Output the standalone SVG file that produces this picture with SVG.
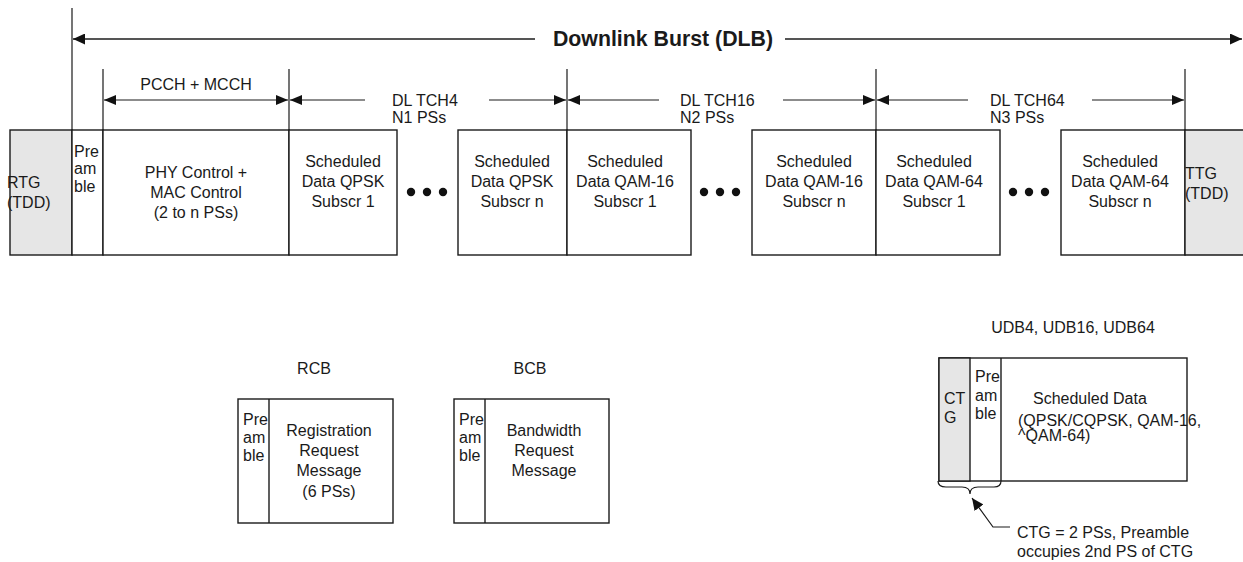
<svg xmlns="http://www.w3.org/2000/svg" width="1243" height="562" viewBox="0 0 1243 562">
<style>
text{font-family:"Liberation Sans",Arial,sans-serif;font-size:16px;fill:#1a1a1a}
.c{text-anchor:middle}
.box{fill:#fff;stroke:#1a1a1a;stroke-width:1.4}
.gray{fill:#e6e6e6;stroke:#1a1a1a;stroke-width:1.4}
.ln{stroke:#1a1a1a;stroke-width:1.2;fill:none}
.dim{stroke:#1a1a1a;stroke-width:1.2;fill:none}
.big{stroke:#555;stroke-width:2;fill:none}
.title{font-weight:bold;font-size:21.3px}
</style>
<defs>
<marker id="ah" viewBox="0 0 12 10" refX="12" refY="5" markerWidth="12" markerHeight="10" markerUnits="userSpaceOnUse" orient="auto-start-reverse"><path d="M0,0 L12,5 L0,10 z" fill="#111"/></marker>
<marker id="ahb" viewBox="0 0 12 11" refX="12" refY="5.5" markerWidth="12" markerHeight="11" markerUnits="userSpaceOnUse" orient="auto-start-reverse"><path d="M0,0 L12,5.5 L0,11 z" fill="#111"/></marker>
</defs>

<g id="connectors">
<line class="ln" x1="72" y1="8" x2="72" y2="130"/>
<line class="big" x1="73" y1="39" x2="535" y2="39" marker-start="url(#ahb)"/>
<line class="big" x1="785" y1="39" x2="1242" y2="39" marker-end="url(#ahb)"/>
<line class="ln" x1="103" y1="69" x2="103" y2="130"/>
<line class="ln" x1="289" y1="69" x2="289" y2="130"/>
<line class="ln" x1="567" y1="69" x2="567" y2="130"/>
<line class="ln" x1="876" y1="69" x2="876" y2="130"/>
<line class="ln" x1="1185" y1="69" x2="1185" y2="130"/>
<line class="dim" x1="104" y1="100" x2="288" y2="100" marker-start="url(#ah)" marker-end="url(#ah)"/>
<line class="dim" x1="290" y1="100" x2="365" y2="100" marker-start="url(#ah)"/>
<line class="dim" x1="489" y1="100" x2="566" y2="100" marker-end="url(#ah)"/>
<line class="dim" x1="568" y1="100" x2="659" y2="100" marker-start="url(#ah)"/>
<line class="dim" x1="783" y1="100" x2="875" y2="100" marker-end="url(#ah)"/>
<line class="dim" x1="877" y1="100" x2="968" y2="100" marker-start="url(#ah)"/>
<line class="dim" x1="1092" y1="100" x2="1184" y2="100" marker-end="url(#ah)"/>
<path class="ln" d="M938,481 Q938,487 946,487 L962,487 Q970,487 970,494 Q970,487 978,487 L994,487 Q1001,487 1001,481"/>
<polyline class="ln" points="1010,527 993,527 972,498" marker-end="url(#ahb)"/>
</g>

<g id="labels">
<text class="title c" x="663" y="46">Downlink Burst (DLB)</text>
<text class="c" x="196" y="90">PCCH + MCCH</text>
<text x="392" y="106">DL TCH4</text>
<text x="392" y="123">N1 PSs</text>
<text x="680" y="106">DL TCH16</text>
<text x="680" y="123">N2 PSs</text>
<text x="990" y="106">DL TCH64</text>
<text x="990" y="123">N3 PSs</text>
</g>

<g id="rtg">
<rect class="gray" x="10" y="130" width="62" height="125"/>
<text x="7" y="188">RTG</text>
<text x="7" y="208">(TDD)</text>
</g>
<g id="preamble-dl">
<rect class="box" x="72" y="130" width="31" height="125"/>
<text x="74" y="157">Pre</text>
<text x="74" y="174">am</text>
<text x="74" y="192">ble</text>
</g>
<g id="phy-mac">
<rect class="box" x="103" y="130" width="186" height="125"/>
<text class="c" x="196" y="178">PHY Control +</text>
<text class="c" x="196" y="198">MAC Control</text>
<text class="c" x="196" y="218">(2 to n PSs)</text>
</g>
<g id="qpsk-1">
<rect class="box" x="289" y="130" width="108" height="125"/>
<text class="c" x="343" y="167">Scheduled</text>
<text class="c" x="343" y="187">Data QPSK</text>
<text class="c" x="343" y="207">Subscr 1</text>
</g>
<g id="dots-1">
<circle cx="411" cy="192" r="4.2" fill="#111"/><circle cx="427" cy="192" r="4.2" fill="#111"/><circle cx="443" cy="192" r="4.2" fill="#111"/>
</g>
<g id="qpsk-n">
<rect class="box" x="458" y="130" width="109" height="125"/>
<text class="c" x="512" y="167">Scheduled</text>
<text class="c" x="512" y="187">Data QPSK</text>
<text class="c" x="512" y="207">Subscr n</text>
</g>
<g id="qam16-1">
<rect class="box" x="567" y="130" width="124" height="125"/>
<text class="c" x="625" y="167">Scheduled</text>
<text class="c" x="625" y="187">Data QAM-16</text>
<text class="c" x="625" y="207">Subscr 1</text>
</g>
<g id="dots-2">
<circle cx="704" cy="192" r="4.2" fill="#111"/><circle cx="720" cy="192" r="4.2" fill="#111"/><circle cx="736" cy="192" r="4.2" fill="#111"/>
</g>
<g id="qam16-n">
<rect class="box" x="752" y="130" width="124" height="125"/>
<text class="c" x="814" y="167">Scheduled</text>
<text class="c" x="814" y="187">Data QAM-16</text>
<text class="c" x="814" y="207">Subscr n</text>
</g>
<g id="qam64-1">
<rect class="box" x="876" y="130" width="124" height="125"/>
<text class="c" x="934" y="167">Scheduled</text>
<text class="c" x="934" y="187">Data QAM-64</text>
<text class="c" x="934" y="207">Subscr 1</text>
</g>
<g id="dots-3">
<circle cx="1013" cy="192" r="4.2" fill="#111"/><circle cx="1029" cy="192" r="4.2" fill="#111"/><circle cx="1045" cy="192" r="4.2" fill="#111"/>
</g>
<g id="qam64-n">
<rect class="box" x="1061" y="130" width="124" height="125"/>
<text class="c" x="1120" y="167">Scheduled</text>
<text class="c" x="1120" y="187">Data QAM-64</text>
<text class="c" x="1120" y="207">Subscr n</text>
</g>
<g id="ttg">
<path d="M1185,130 H1244 V255 H1185 Z" fill="#e6e6e6"/>
<path class="ln" d="M1244,130 H1185 V255 H1244" style="stroke-width:1.4"/>
<text x="1185" y="179">TTG</text>
<text x="1185" y="199">(TDD)</text>
</g>

<g id="rcb">
<text class="c" x="314" y="374">RCB</text>
<rect class="box" x="238" y="399" width="155" height="124"/>
<line class="ln" x1="269" y1="399" x2="269" y2="523" style="stroke-width:1.4"/>
<text x="243" y="425">Pre</text>
<text x="243" y="443">am</text>
<text x="243" y="461">ble</text>
<text class="c" x="329" y="436">Registration</text>
<text class="c" x="329" y="456">Request</text>
<text class="c" x="329" y="476">Message</text>
<text class="c" x="329" y="497">(6 PSs)</text>
</g>

<g id="bcb">
<text class="c" x="530" y="374">BCB</text>
<rect class="box" x="454" y="399" width="155" height="124"/>
<line class="ln" x1="485" y1="399" x2="485" y2="523" style="stroke-width:1.4"/>
<text x="459" y="425">Pre</text>
<text x="459" y="443">am</text>
<text x="459" y="461">ble</text>
<text class="c" x="544" y="436">Bandwidth</text>
<text class="c" x="544" y="456">Request</text>
<text class="c" x="544" y="476">Message</text>
</g>

<g id="udb">
<text class="c" x="1073" y="333">UDB4, UDB16, UDB64</text>
<rect class="box" x="939" y="358" width="248" height="123"/>
<rect class="gray" x="939" y="358" width="31" height="123"/>
<line class="ln" x1="1001" y1="358" x2="1001" y2="481" style="stroke-width:1.4"/>
<text x="944" y="404">CT</text>
<text x="944" y="423">G</text>
<text x="975" y="382">Pre</text>
<text x="975" y="401">am</text>
<text x="975" y="419">ble</text>
<text x="1033" y="404">Scheduled Data</text>
<text x="1018" y="426">(QPSK/CQPSK, QAM-16,</text>
<text x="1018" y="441">^QAM-64)</text>
</g>

<g id="ctg-note">
<text x="1017" y="538">CTG = 2 PSs, Preamble</text>
<text x="1017" y="557">occupies 2nd PS of CTG</text>
</g>
</svg>
